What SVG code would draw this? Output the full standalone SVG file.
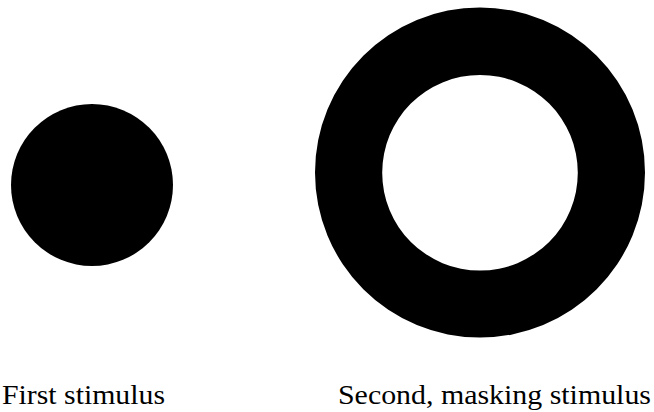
<svg xmlns="http://www.w3.org/2000/svg" width="654" height="412" viewBox="0 0 654 412">
<style>
.lbl{font-family:"Liberation Serif","Times New Roman",serif;font-size:27px;fill:#000}
.shape{fill:#000}
</style>
<rect width="654" height="412" fill="#fff"/>
<g id="first-stimulus">
<circle class="shape" cx="92" cy="185" r="81"/>
<text class="lbl" x="2" y="404" textLength="163" lengthAdjust="spacingAndGlyphs">First stimulus</text>
</g>
<g id="masking-stimulus">
<path class="shape" fill-rule="evenodd" d="M315,172.5a165,165 0 1,0 330,0a165,165 0 1,0 -330,0ZM382.2,172.8a97.8,97.8 0 1,0 195.6,0a97.8,97.8 0 1,0 -195.6,0Z"/>
<text class="lbl" x="338" y="404" textLength="313" lengthAdjust="spacingAndGlyphs">Second, masking stimulus</text>
</g>
<g id="connectors"/>
</svg>
